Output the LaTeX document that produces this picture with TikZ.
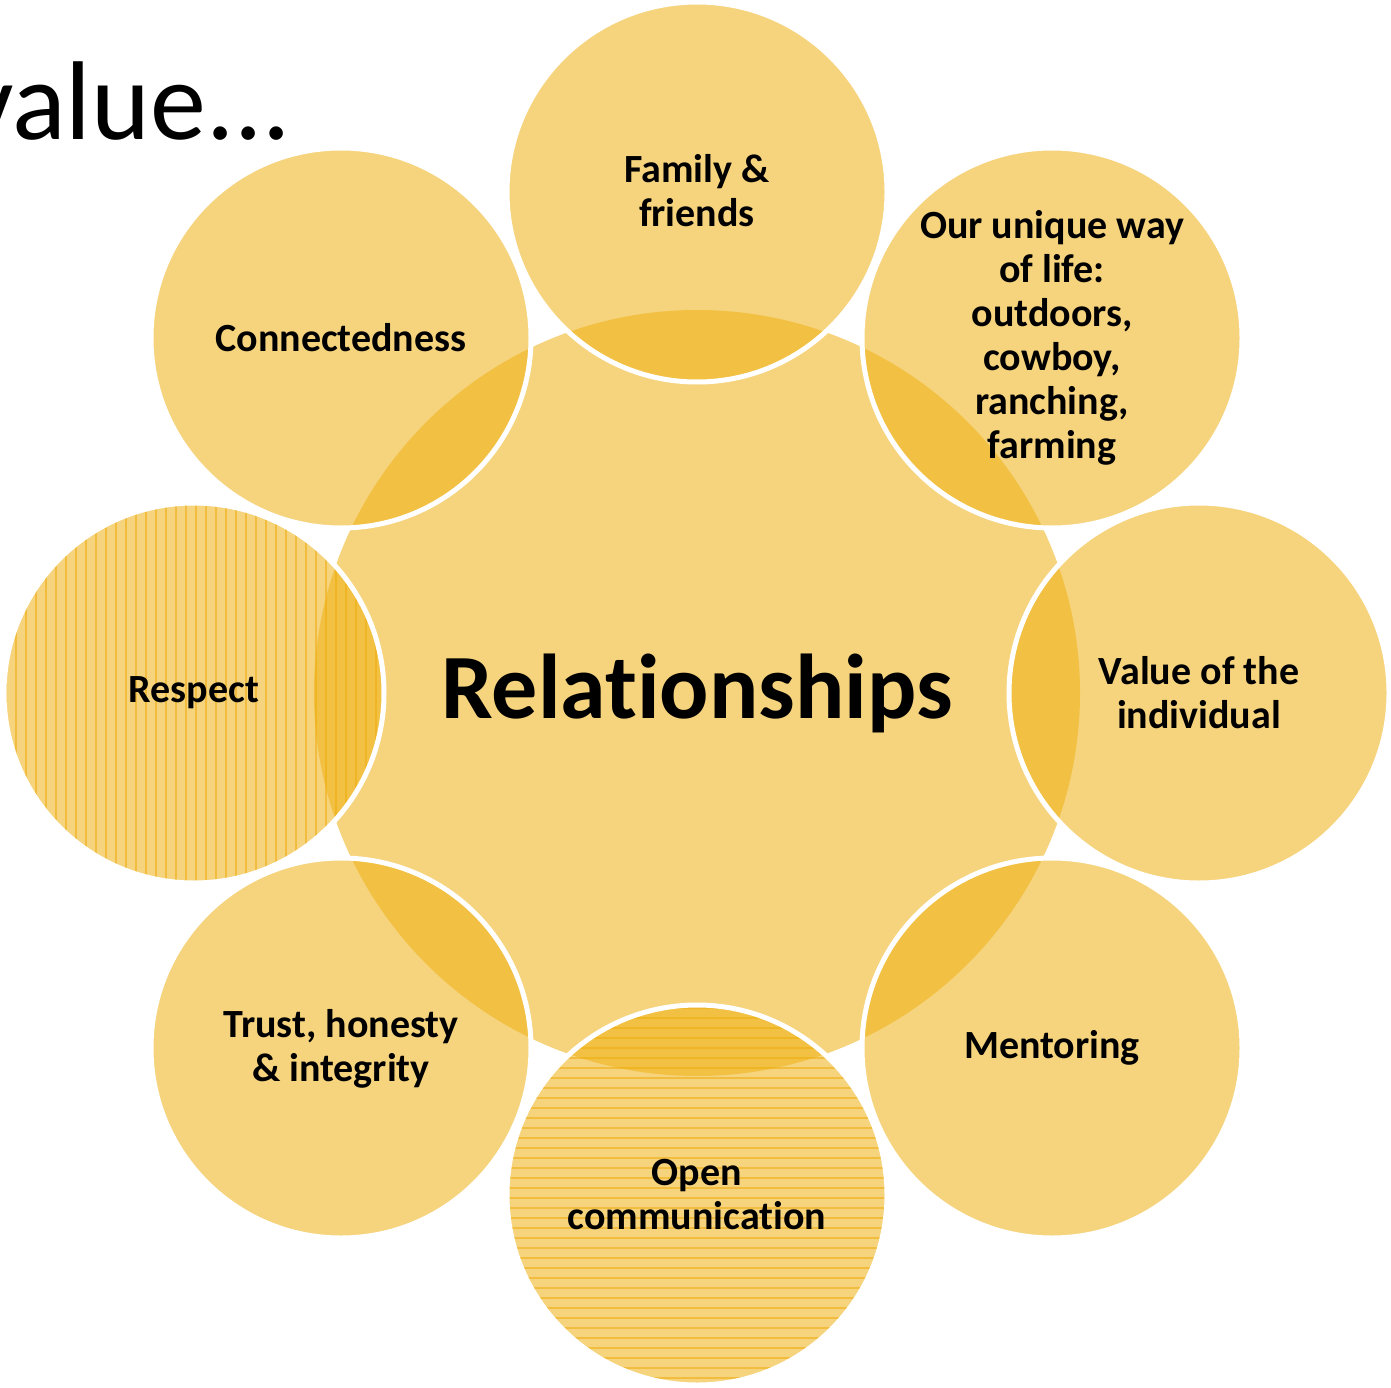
\documentclass[tikz,border=0pt]{standalone}
\usepackage{fontspec}
\setmainfont{Carlito}[RawFeature={-liga}]
\begin{document}
\begin{tikzpicture}[x=1pt,y=-1pt]
\definecolor{gold}{RGB}{238,175,16}
\definecolor{stripe}{RGB}{238,172,10}
\tikzset{
  petal/.style={fill=gold,fill opacity=0.54},
  hub/.style={fill=gold,fill opacity=0.54},
  rim/.style={draw=white,line width=5pt},
  lbl/.style={inner sep=0pt,align=center,text opacity=1,font=\fontsize{40}{44}\selectfont\bfseries},
  stripeline/.style={draw=stripe,draw opacity=0.55,line width=1.2pt}
}
\useasboundingbox (0,0) rectangle (1391,1388);
% central circle
\fill[hub] (697,693) circle[radius=383];
% outer circles (fills)
\foreach \cx/\cy in {697/192,1052/338,1199/693,1052/1048,697/1195,341/1048,194/693,341/338}{
  \fill[petal] (\cx,\cy) circle[radius=190];
}
% stripes: Respect (vertical)
\begin{scope}
  \clip (194,693) circle[radius=190];
  \foreach \x in {6,16,...,386}{
    \draw[stripeline] (\x,500) -- (\x,886);
  }
\end{scope}
% stripes: Open communication (horizontal)
\begin{scope}
  \clip (697,1195) circle[radius=190];
  \foreach \y in {1008,1018,...,1388}{
    \draw[stripeline] (504,\y) -- (890,\y);
  }
\end{scope}
% white borders
\foreach \cx/\cy in {697/192,1052/338,1199/693,1052/1048,697/1195,341/1048,194/693,341/338}{
  \draw[rim] (\cx,\cy) circle[radius=190];
}
% labels
\node[inner sep=0pt,font=\fontsize{92}{100}\selectfont\bfseries] (rel) at (697,693) {Relationships};
\node[lbl] (fam) at (697,191) {Family \&\\friends};
\node[lbl] (way) at (1052,338) {Our unique way\\of life:\\outdoors,\\cowboy,\\ranching,\\farming};
\node[lbl] (ind) at (1199,693) {Value of the\\individual};
\node[lbl] (men) at (1052,1048) {Mentoring};
\node[lbl] (open) at (697,1195) {Open\\communication};
\node[lbl] (tru) at (341,1049) {Trust, honesty\\\& integrity};
\node[lbl] (res) at (194,693) {Respect};
\node[lbl] (con) at (341,338) {Connectedness};
\node[inner sep=0pt,anchor=base east,font=\fontsize{112}{112}\selectfont] (val) at (291,140) {value...};
\end{tikzpicture}
\end{document}
